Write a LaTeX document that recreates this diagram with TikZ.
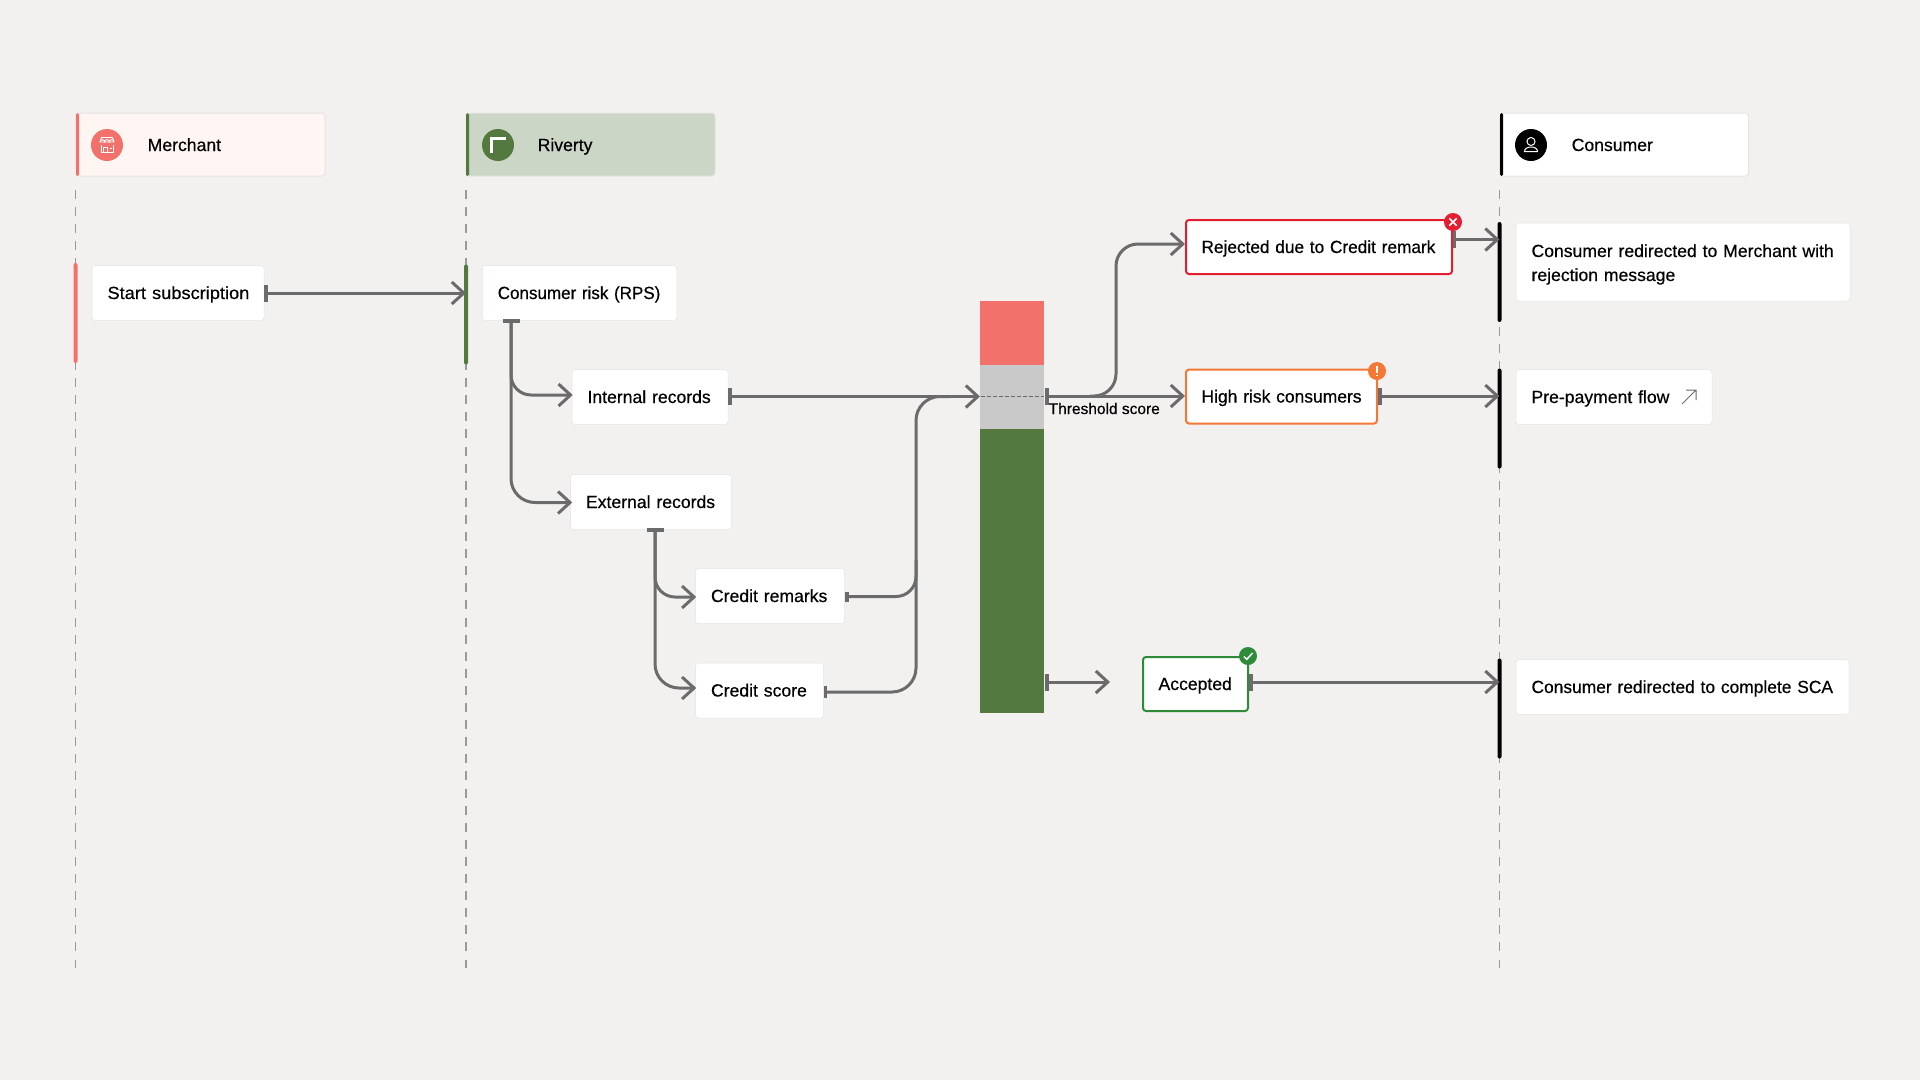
\documentclass[tikz,border=0pt]{standalone}
\usepackage{fontspec}
\setmainfont{Liberation Sans}[FakeBold=0.45]
\usetikzlibrary{arrows.meta,calc}
\definecolor{bgc}{HTML}{F2F1EF}
\definecolor{wire}{HTML}{6B6B6B}
\definecolor{merch}{HTML}{F2716B}
\definecolor{merchfill}{HTML}{FFF5F3}
\definecolor{riv}{HTML}{53793F}
\definecolor{rivfill}{HTML}{CBD6C6}
\definecolor{edgec}{HTML}{E6E4E2}
\definecolor{midgrey}{HTML}{C9C9C9}
\definecolor{rej}{HTML}{E31E30}
\definecolor{warnc}{HTML}{F47735}
\definecolor{okc}{HTML}{2E8B3A}
\definecolor{lifec}{HTML}{999999}
\tikzset{
  x=1pt,y=-1pt,
  txt/.style={font=\fontsize{17.6}{24}\selectfont,text=black,text height=14pt,text depth=2pt},
  card/.style={txt,draw=edgec,line width=0.5pt,fill=white,rounded corners=3pt,align=left,inner xsep=15.5pt,inner ysep=0pt,minimum height=55pt},
  outcome/.style={card,line width=2pt,minimum height=54pt},
  header/.style={draw=edgec,line width=1pt,rounded corners=3pt,minimum width=249pt,minimum height=63pt,align=left,inner sep=0pt},
  lifeline/.style={draw=lifec,line width=1.2pt,dash pattern=on 9pt off 8.1pt},
  actbar/.style={rounded corners=2pt,minimum width=4pt,inner sep=0pt,minimum height=100pt},
  seg/.style={minimum width=64pt,inner sep=0pt,outer sep=0pt},
  conn/.style={draw=wire,line width=3pt,-{Straight Barb[length=12pt,width=22pt,line width=3pt]}},
  connstart/.style={conn,{Bar[width=17pt,line width=3.5pt]}-{Straight Barb[length=12pt,width=22pt,line width=3pt]}},
  badge/.style={circle,minimum size=18pt,inner sep=0pt},
  icondot/.style={circle,minimum size=32pt,inner sep=0pt},
  glyph/.style={draw=white,line width=1pt}
}
\newcommand{\hfit}[2]{\scalebox{#1}[1]{#2}}
\begin{document}
\begin{tikzpicture}
\useasboundingbox (0,0) rectangle (1920,1080);
\fill[bgc] (0,0) rectangle (1920,1080);

% lifelines
\coordinate (mtop) at (75.5,190);
\coordinate (mbot) at (75.5,967.5);
\coordinate (rtop) at (466,190);
\coordinate (rbot) at (466,967.5);
\coordinate (ctop) at (1499.5,190);
\coordinate (cbot) at (1499.5,967.5);
\draw[lifeline] (mtop) -- (mbot);
\draw[lifeline] (rtop) -- (rbot);
\draw[lifeline] (ctop) -- (cbot);

% headers
\node[header,fill=merchfill] (hm) at (200.5,144.5) {};
\fill[merch,rounded corners=1.5pt] (76,113) rectangle (79,176);
\node[icondot,fill=merch] (hmi) at (107,145) {};
\node[txt,anchor=west,inner sep=0pt] (hmt) at (147.5,145) {Merchant};
\draw[glyph,line width=0.9pt] (100,142) -- (101.5,137.5) -- (112.5,137.5) -- (114,142) (100,142) -- (114,142);
\draw[glyph,line width=0.9pt] (100,142) arc[start angle=180,end angle=360,radius=2.33] arc[start angle=180,end angle=360,radius=2.33] arc[start angle=180,end angle=360,radius=2.33];
\draw[glyph,line width=0.9pt] (101,145) -- (101,152) -- (113,152) -- (113,145) (103.5,152) -- (103.5,147.5) -- (107.5,147.5) -- (107.5,152) (109.5,148.5) -- (111.5,148.5);

\node[header,fill=rivfill] (hr) at (590.5,144.5) {};
\fill[riv,rounded corners=1.5pt] (466,113) rectangle (469,176);
\node[icondot,fill=riv] (hri) at (498,145) {};
\node[txt,anchor=west,inner sep=0pt] (hrt) at (537.5,145) {Riverty};
\draw[white,line width=3pt] (491,152.5) -- (491,138) -- (506,138);

\node[header,fill=white] (hc) at (1624,144.5) {};
\fill[black,rounded corners=1.5pt] (1500,113) rectangle (1503,176);
\node[icondot,fill=black] (hci) at (1531,145) {};
\node[txt,anchor=west,inner sep=0pt] (hct) at (1571.5,145) {Consumer};
\draw[glyph,line width=1pt] (1531,141.5) circle[radius=4];
\draw[glyph,line width=1pt] (1524.5,151.5) .. controls (1524.5,145.5) and (1537.5,145.5) .. (1537.5,151.5) -- cycle;

% activation bars
\node[actbar,fill=merch] (am) at (75.5,313) {};
\node[actbar,fill=riv] (ar) at (466,314.5) {};
\node[actbar,fill=black] (ac1) at (1499.5,272) {};
\node[actbar,fill=black] (ac2) at (1499.5,418.5) {};
\node[actbar,fill=black] (ac3) at (1499.5,708.5) {};

% score bar
\node[seg,fill=merch,minimum height=64.5pt] (sred) at (1012,333) {};
\node[seg,fill=midgrey,minimum height=64pt] (sgrey) at (1012,397) {};
\node[seg,fill=riv,minimum height=284pt] (sgreen) at (1012,571) {};
\coordinate (thl) at (981,396);
\coordinate (thr) at (1044,396);
\draw[draw=wire,line width=1pt,dash pattern=on 3.5pt off 2.5pt] (thl) -- (thr);

% cards
\node[card,text width=141pt] (start) at (178,293) {\hfit{1.036}{Start subscription}};
\node[card,text width=163.5pt] (risk) at (579.5,293) {\hfit{0.967}{Consumer risk (RPS)}};
\node[card,text width=125pt] (internal) at (650,397) {\mbox{Internal records}};
\node[card,text width=130pt] (external) at (651,502) {\mbox{External records}};
\node[card,text width=118pt] (remarks) at (770,596) {\mbox{Credit remarks}};
\node[card,text width=97pt] (score) at (759.5,690.5) {\mbox{Credit score}};
\node[card,text width=303pt,minimum height=78pt,text depth=24pt] (msg1) at (1683,262) {\mbox{Consumer redirected to Merchant with}\\\mbox{rejection message}};
\node[card,text width=165pt] (msg2) at (1614,397) {\mbox{Pre-payment flow}};
\node[card,text width=302pt] (msg3) at (1682.5,687) {\hfit{0.988}{Consumer redirected to complete SCA}};
\coordinate (ar1) at (1682,404);
\coordinate (ar2) at (1696,390);
\draw[draw=wire,line width=1pt] (ar1) -- (ar2) (1686,390) -- (ar2) -- (1696,400);

% outcomes
\node[outcome,draw=rej,text width=235pt] (rejected) at (1319,247) {\hfit{0.98}{Rejected due to Credit remark}};
\node[outcome,draw=warnc,text width=160pt] (high) at (1281.5,396.5) {\hfit{0.992}{High risk consumers}};
\node[outcome,draw=okc,text width=74pt] (accepted) at (1195.5,684) {\mbox{Accepted}};

% badges
\node[badge,fill=rej] (brej) at (1453,222) {};
\draw[glyph,line width=1.6pt] (1449.3,218.3) -- (1456.7,225.7) (1456.7,218.3) -- (1449.3,225.7);
\node[badge,fill=warnc] (bwarn) at (1377,371) {};
\draw[glyph,line width=1.6pt] (1377,366) -- (1377,372.5) (1377,374.5) -- (1377,376);
\node[badge,fill=okc] (bok) at (1248,656) {};
\draw[glyph,line width=1.5pt] (1243.8,656.5) -- (1246.8,659.3) -- (1252.5,653);

% threshold label
\node[font=\fontsize{15.5}{18}\selectfont,text=black,anchor=west,inner sep=0pt] (thlabel) at (1048.5,408.5) {Threshold score};

% connectors
\draw[connstart] (start.east) -- (start.east -| ar.center);

\coordinate (riskstem) at (511,319);
\coordinate (intknee) at (511,395);
\coordinate (extknee) at (511,502.5);
\coordinate (intin) at ($(internal.west |- intknee)+(1,0)$);
\coordinate (extin) at ($(external.west |- extknee)+(2,0)$);
\draw[conn,rounded corners=20pt] (riskstem) -- (intknee) -- (intin);
\draw[connstart,rounded corners=24pt] (riskstem) -- (extknee) -- (extin);

\coordinate (extstem) at (655,528);
\coordinate (remknee) at (655,597);
\coordinate (scoknee) at (655,688);
\coordinate (remin) at ($(remarks.west |- remknee)+(1,0)$);
\coordinate (scoin) at ($(score.west |- scoknee)+(1,0)$);
\draw[conn,rounded corners=20pt] (extstem) -- (remknee) -- (remin);
\draw[connstart,rounded corners=24pt] (extstem) -- (scoknee) -- (scoin);

\coordinate (intout) at (728,396.5);
\coordinate (barin) at (sgrey.west |- intout);
\draw[connstart] (intout) -- (barin);
\coordinate (merge) at (916,396.5);
\coordinate (remout) at (845,596.5);
\coordinate (remturn) at (916,596.5);
\coordinate (remend) at (916,560);
\coordinate (scoout) at (823.5,692);
\coordinate (scoturn) at (916,692);
\coordinate (mergeend) at (950,396.5);
\draw[draw=wire,line width=3pt,{Bar[width=10pt,line width=3.5pt]}-,rounded corners=20pt] (remout) -- (remturn) -- (remend);
\draw[draw=wire,line width=3pt,{Bar[width=12pt,line width=3.5pt]}-,rounded corners=24pt] (scoout) -- (scoturn) -- (merge) -- (mergeend);

\coordinate (thout) at (1045,396);
\coordinate (thturn) at (1116,396);
\coordinate (thup) at (1116,244);
\coordinate (thfrom) at (1090,396);
\coordinate (rejin) at (rejected.west |- thup);
\coordinate (highin) at (high.west |- thout);
\draw[connstart] (thout) -- (highin);
\draw[conn,rounded corners=22pt] (thfrom) -- (thturn) -- (thup) -- (rejin);

\coordinate (rejout) at (1452.5,239.5);
\draw[connstart] (rejout) -- (rejout -| ac1.center);
\coordinate (highout) at (1378,396);
\draw[connstart] (highout) -- (highout -| ac2.center);
\coordinate (greenout) at (1045,682);
\coordinate (accin) at (1110,682);
\draw[connstart] (greenout) -- (accin);
\coordinate (accout) at (1249,682);
\draw[connstart] (accout) -- (accout -| ac3.center);
\end{tikzpicture}
\end{document}
